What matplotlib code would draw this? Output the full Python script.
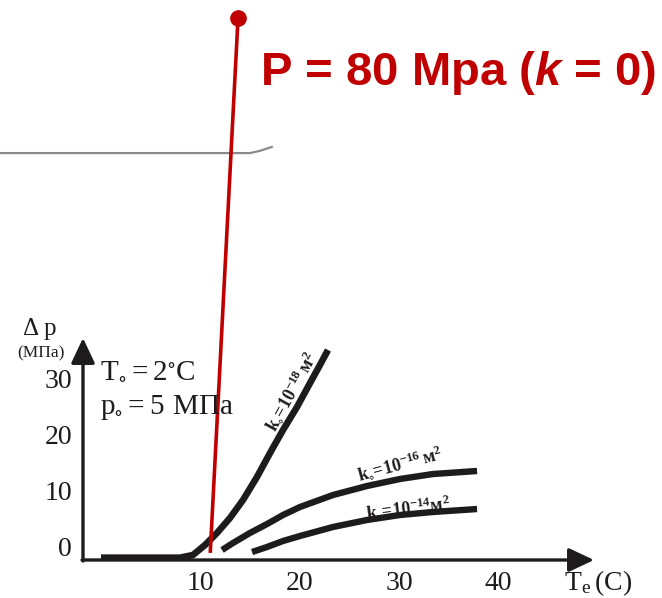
import numpy as np
import matplotlib
matplotlib.use("Agg")
import matplotlib.pyplot as plt

plt.rcParams['font.family'] = ['Liberation Serif', 'DejaVu Serif']
plt.rcParams['mathtext.fontset'] = 'custom'
plt.rcParams['mathtext.rm'] = 'Liberation Serif'
plt.rcParams['mathtext.it'] = 'Liberation Sans:italic:bold'
plt.rcParams['mathtext.bf'] = 'Liberation Serif:bold'

# ---- data ----
x_ticks = [10, 20, 30, 40]
y_ticks = [0, 10, 20, 30]

k18_x = [0.0, 7.96, 9.26, 10.47, 11.68, 12.99, 14.30, 15.71, 17.02, 18.33, 19.74, 21.05, 22.05, 22.86]
k18_y = [-1.55, -1.55, -1.07, 0.71, 2.86, 5.54, 8.75, 12.86, 17.14, 21.25, 25.36, 29.64, 32.86, 35.54]

k16_x = [12.19, 13.29, 15.0, 16.72, 18.33, 20.04, 23.36, 26.79, 30.11, 33.43, 37.87]
k16_y = [-0.18, 1.07, 2.86, 4.46, 6.07, 7.5, 9.64, 11.25, 12.5, 13.39, 13.93]

k14_x = [15.21, 16.72, 18.33, 20.04, 23.36, 26.79, 30.11, 33.43, 37.87]
k14_y = [-0.54, 0.36, 1.43, 2.32, 3.93, 5.18, 6.07, 6.61, 7.14]

red_x = [11.0, 13.8]
red_y = [-0.7, 94.8]

gray_x = [-10.2, 15.0, 16.0, 17.2]
gray_y = [70.7, 70.7, 71.1, 71.8]

# ---- figure ----
X0, SX = 101.0, 9.93
Y0, SY = 549.0, 5.6
fig = plt.figure(figsize=(6.62, 5.98), dpi=100)
ax = fig.add_axes([0, 0, 1, 1])
ax.set_xlim((0 - X0) / SX, (662 - X0) / SX)
ax.set_ylim((Y0 - 598) / SY, Y0 / SY)
ax.axis('off')

def px(x, y):
    return ((x - X0) / SX, (Y0 - y) / SY)

dark = '#1e1b1c'
red = '#c00000'

# axes with arrows
arrow = dict(arrowstyle='-|>,head_length=0.7,head_width=0.33', lw=2.4,
             color=dark, mutation_scale=22, shrinkA=0, shrinkB=0)
ax.annotate('', xy=px(594, 560), xytext=px(82, 560), arrowprops=arrow)
ax.annotate('', xy=px(83, 338), xytext=px(83, 561), arrowprops=arrow)

# tick labels
for t in x_ticks:
    ax.text(t, (Y0 - 583) / SY, str(t), ha='center', va='center', fontsize=20, color=dark)
for t in y_ticks:
    ax.text(px(72, 0)[0], t, str(t), ha='right', va='center', fontsize=20, color=dark)

ax.text(*px(598, 583), r'$\mathregular{T_e\,(C)}$', ha='center', va='center', fontsize=20, color=dark)
ax.text(*px(40, 329), 'Δ p', ha='center', va='center', fontsize=18, color=dark)
ax.text(*px(41, 353), '(МПа)', ha='center', va='center', fontsize=12.5, color=dark)
ax.text(*px(100, 372), r'$\mathregular{T_{\circ} = 2^{\circ}C}$', ha='left', va='center', fontsize=21, color=dark)
ax.text(*px(100, 407), r'$\mathregular{p_{\circ} = 5\ МПа}$', ha='left', va='center', fontsize=21, color=dark)

# curves
ax.plot(k18_x, k18_y, color=dark, lw=4.8, solid_capstyle='butt', solid_joinstyle='round')
ax.plot(k16_x, k16_y, color=dark, lw=4.6, solid_capstyle='butt', solid_joinstyle='round')
ax.plot(k14_x, k14_y, color=dark, lw=4.6, solid_capstyle='butt', solid_joinstyle='round')

# curve labels
ax.text(*px(291, 391), r'$\mathregular{k_{\circ}\!=\!10^{-18}\,м^2}$', rotation=61, ha='center', va='center',
        fontsize=13, fontweight='bold', color=dark, rotation_mode='anchor')
ax.text(*px(400, 464), r'$\mathregular{k_{\circ}\!=\!10^{-16}\,м^2}$', rotation=15, ha='center', va='center',
        fontsize=13, fontweight='bold', color=dark, rotation_mode='anchor')
ax.text(*px(408, 507), r'$\mathregular{k_{\circ}\!=\!10^{-14}м^2}$', rotation=7, ha='center', va='center',
        fontsize=13, fontweight='bold', color=dark, rotation_mode='anchor')

# gray line
ax.plot(gray_x, gray_y, color='#8a8a8a', lw=1.6)

# red annotation line
ax.plot(red_x, red_y, color=red, lw=2.6, solid_capstyle='butt')
ax.plot([red_x[1]], [red_y[1]], 'o', color=red, markersize=11)

ax.text(*px(260, 85), r'P = 80 Mpa ($\mathit{k}$ = 0)', ha='left', va='baseline', fontsize=34,
        fontweight='bold', color=red, family='Liberation Sans')

fig.savefig('out.png', dpi=100)
